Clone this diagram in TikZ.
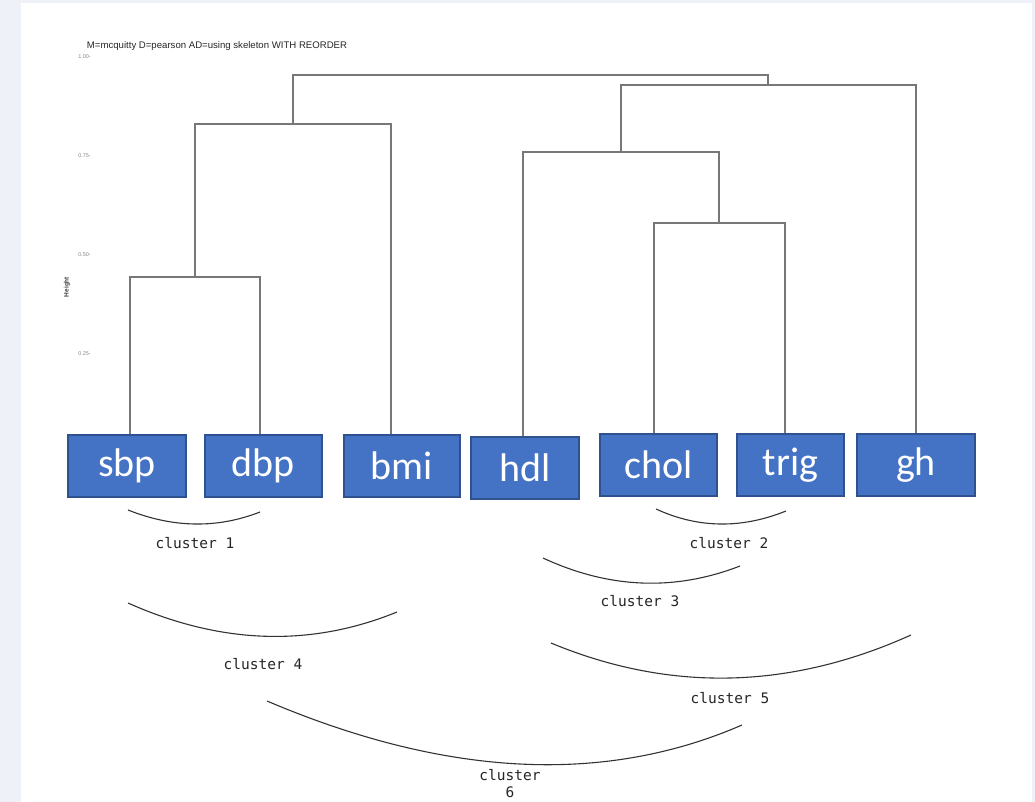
\documentclass[tikz,border=0pt]{standalone}
\usepackage{fontspec}
\setmainfont{Liberation Sans}
\newfontfamily\boxfont{Carlito}
\newfontfamily\monofont{DejaVu Sans Mono}
\usetikzlibrary{calc}
\definecolor{pagebg}{HTML}{EEF2F8}
\definecolor{boxfill}{HTML}{4472C4}
\definecolor{boxline}{HTML}{2F528F}
\definecolor{dendcol}{HTML}{777777}
\definecolor{axiscol}{HTML}{888888}
\definecolor{arccol}{HTML}{333333}
\tikzset{
  leafbox/.style={draw=boxline, line width=1.8pt, fill=boxfill, text=white,
    font=\boxfont\fontsize{40}{44}\selectfont, inner sep=0pt,
    minimum height=62pt},
  dend/.style={draw=dendcol, line width=1.5pt},
  clarc/.style={draw=arccol, line width=1.1pt},
  cllabel/.style={font=\monofont\fontsize{14.5}{17}\selectfont, text=black!85, inner sep=0pt},
  axlabel/.style={font=\fontsize{5.5}{6}\selectfont, text=axiscol, inner sep=0pt, anchor=east}
}
\begin{document}
\begin{tikzpicture}[x=1pt,y=-1pt]
\fill[pagebg] (0,0) rectangle (1035,802);
\fill[white] (21,3) rectangle (1032,802);
\useasboundingbox (0,0) rectangle (1035,802);

% title and axis
\node[font=\fontsize{9.6}{10}\selectfont, text=black!85, inner sep=0pt] (title) at (217,46) {M=mcquitty D=pearson AD=using skeleton WITH REORDER};
\node[axlabel] (t100) at (91,57) {1.00-};
\node[axlabel] (t075) at (91,156) {0.75-};
\node[axlabel] (t050) at (91,255) {0.50-};
\node[axlabel] (t025) at (91,354) {0.25-};
\node[font=\bfseries\fontsize{6.5}{7}\selectfont, text=black!75, rotate=90, inner sep=0pt] (ylab) at (67,287) {Height};

% leaf boxes
\node[leafbox, minimum width=118pt] (sbp) at (127,466) {sbp};
\node[leafbox, minimum width=117pt] (dbp) at (263.5,466) {dbp};
\node[leafbox, minimum width=116pt] (bmi) at (402,466) {bmi};
\node[leafbox, minimum width=108pt] (hdl) at (525,468) {hdl};
\node[leafbox, minimum width=117pt] (chol) at (658.5,465) {chol};
\node[leafbox, minimum width=107pt] (trig) at (790.5,465) {trig};
\node[leafbox, minimum width=118pt] (gh) at (916,465) {gh};

% dendrogram
\coordinate (a1) at (130,277); \coordinate (b1) at (260,277);
\draw[dend] (sbp.north -| a1) -- (a1) -- (b1) -- (dbp.north -| b1);
\coordinate (a2) at (195,124); \coordinate (b2) at (391,124);
\draw[dend] (a2 |- a1) -- (a2) -- (b2) -- (bmi.north -| b2);
\coordinate (a3) at (654,223); \coordinate (b3) at (785,223);
\draw[dend] (chol.north -| a3) -- (a3) -- (b3) -- (trig.north -| b3);
\coordinate (a4) at (523,152); \coordinate (b4) at (719,152);
\draw[dend] (hdl.north -| a4) -- (a4) -- (b4) -- (b4 |- a3);
\coordinate (a5) at (621,85); \coordinate (b5) at (916,85);
\draw[dend] (a5 |- a4) -- (a5) -- (b5) -- (gh.north -| b5);
\coordinate (a6) at (293,75); \coordinate (b6) at (768,75);
\draw[dend] (a6 |- a2) -- (a6) -- (b6) -- (b6 |- a5);

% cluster arcs (quadratic curves: start, control, end)
\coordinate (c1s) at (128,510); \coordinate (c1c) at (196,537); \coordinate (c1e) at (260,512);
\coordinate (c2s) at (656,509); \coordinate (c2c) at (719,538); \coordinate (c2e) at (786,511);
\coordinate (c3s) at (543,558); \coordinate (c3c) at (642,604); \coordinate (c3e) at (740,566);
\coordinate (c4s) at (128,603); \coordinate (c4c) at (267,665); \coordinate (c4e) at (397,612);
\coordinate (c5s) at (551,643); \coordinate (c5c) at (729,717); \coordinate (c5e) at (911,635);
\coordinate (c6s) at (267,701); \coordinate (c6c) at (535,815); \coordinate (c6e) at (742,725);
\foreach \k in {1,...,6}{
  \draw[clarc] (c\k s) .. controls ($(c\k s)!0.6667!(c\k c)$) and ($(c\k e)!0.6667!(c\k c)$) .. (c\k e);
}

% cluster labels
\node[cllabel] (l1) at (195,543) {cluster 1};
\node[cllabel] (l2) at (729,543) {cluster 2};
\node[cllabel] (l3) at (640,601) {cluster 3};
\node[cllabel] (l4) at (263,664) {cluster 4};
\node[cllabel] (l5) at (730,698) {cluster 5};
\node[cllabel, align=center] (l6) at (510,784) {cluster\\6};
\end{tikzpicture}
\end{document}
